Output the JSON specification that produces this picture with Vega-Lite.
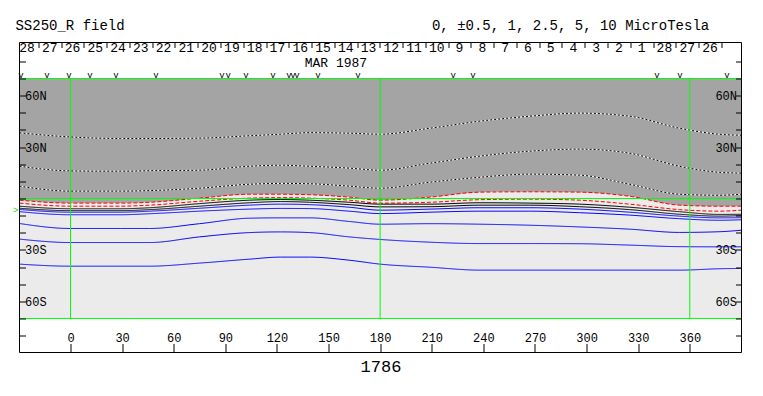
{
  "$schema": "https://vega.github.io/schema/vega-lite/v6.json",
  "width": 722,
  "height": 310,
  "autosize": {"type": "none"},
  "padding": {"left": 19.5, "top": 42.5, "right": 21.5, "bottom": 43.5},
  "background": "white",
  "config": {"view": {"stroke": null}, "font": "Liberation Mono"},
  "datasets": {
    "grid": [
      {"lon": -29.65, "N1": 38.3, "N2": 18.8, "N3": 7.2, "N0": -1.0, "R2": -2.7, "K1": -4.5, "K2": -5.7, "B1": -6.4, "B2": -7.7, "B3": -14.6, "B4": -23.7, "B5": -38.3},
      {"lon": 0, "N1": 35.9, "N2": 16.1, "N3": 4.3, "N0": -2.7, "R2": -4.5, "K1": -6.0, "K2": -7.1, "B1": -8.0, "B2": -9.5, "B3": -17.5, "B4": -25.7, "B5": -39.5},
      {"lon": 29, "N1": 35.0, "N2": 15.9, "N3": 4.3, "N0": -2.7, "R2": -4.5, "K1": -6.0, "K2": -7.1, "B1": -8.0, "B2": -9.5, "B3": -17.5, "B4": -25.7, "B5": -39.5},
      {"lon": 46, "N1": 35.0, "N2": 16.2, "N3": 4.6, "N0": -2.2, "R2": -3.9, "K1": -5.4, "K2": -6.5, "B1": -7.4, "B2": -8.9, "B3": -17.5, "B4": -25.7, "B5": -39.5},
      {"lon": 75, "N1": 35.2, "N2": 16.5, "N3": 6.0, "N0": 0.2, "R2": -1.6, "K1": -3.0, "K2": -4.5, "B1": -5.7, "B2": -7.4, "B3": -14.7, "B4": -22.4, "B5": -37.7},
      {"lon": 104, "N1": 36.6, "N2": 18.8, "N3": 8.3, "N0": 2.5, "R2": 0.2, "K1": -1.0, "K2": -2.5, "B1": -3.9, "B2": -6.2, "B3": -11.5, "B4": -19.9, "B5": -35.4},
      {"lon": 122, "N1": 37.5, "N2": 19.4, "N3": 8.8, "N0": 2.5, "R2": 0.5, "K1": -0.6, "K2": -1.8, "B1": -3.3, "B2": -5.8, "B3": -11.3, "B4": -19.5, "B5": -34.2},
      {"lon": 139, "N1": 38.4, "N2": 18.8, "N3": 8.6, "N0": 2.2, "R2": 0.2, "K1": -1.0, "K2": -2.2, "B1": -3.6, "B2": -5.9, "B3": -11.3, "B4": -19.9, "B5": -34.2},
      {"lon": 162, "N1": 38.1, "N2": 17.7, "N3": 7.2, "N0": 0.8, "R2": -1.0, "K1": -2.2, "K2": -3.6, "B1": -5.1, "B2": -7.4, "B3": -13.4, "B4": -22.4, "B5": -36.0},
      {"lon": 180, "N1": 37.5, "N2": 16.5, "N3": 6.0, "N0": -1.0, "R2": -2.7, "K1": -3.3, "K2": -4.9, "B1": -6.8, "B2": -8.8, "B3": -15.0, "B4": -23.9, "B5": -38.3},
      {"lon": 209, "N1": 41.0, "N2": 20.6, "N3": 9.5, "N0": 0.8, "R2": -2.2, "K1": -3.3, "K2": -4.8, "B1": -6.2, "B2": -8.0, "B3": -14.7, "B4": -25.5, "B5": -40.1},
      {"lon": 238, "N1": 45.1, "N2": 24.7, "N3": 12.4, "N0": 3.7, "R2": -0.7, "K1": -2.5, "K2": -3.9, "B1": -5.4, "B2": -7.4, "B3": -15.0, "B4": -26.3, "B5": -41.8},
      {"lon": 267, "N1": 48.0, "N2": 27.6, "N3": 14.2, "N0": 3.9, "R2": -0.4, "K1": -2.7, "K2": -3.9, "B1": -5.4, "B2": -7.4, "B3": -15.6, "B4": -26.3, "B5": -41.8},
      {"lon": 296, "N1": 49.8, "N2": 28.8, "N3": 13.6, "N0": 3.7, "R2": -1.0, "K1": -3.3, "K2": -4.8, "B1": -6.2, "B2": -8.3, "B3": -16.6, "B4": -26.4, "B5": -41.8},
      {"lon": 325, "N1": 48.0, "N2": 26.4, "N3": 8.3, "N0": 1.3, "R2": -3.3, "K1": -5.1, "K2": -6.5, "B1": -8.0, "B2": -9.7, "B3": -17.9, "B4": -27.2, "B5": -41.8},
      {"lon": 354, "N1": 41.0, "N2": 18.8, "N3": 2.5, "N0": -3.9, "R2": -6.5, "K1": -7.7, "K2": -9.2, "B1": -10.3, "B2": -11.8, "B3": -19.8, "B4": -28.1, "B5": -41.8},
      {"lon": 377, "N1": 37.5, "N2": 15.3, "N3": 1.9, "N0": -4.5, "R2": -7.4, "K1": -9.3, "K2": -10.3, "B1": -11.3, "B2": -12.7, "B3": -19.4, "B4": -28.2, "B5": -41.0},
      {"lon": 390.05, "N1": 36.9, "N2": 14.8, "N3": 2.5, "N0": -4.5, "R2": -6.8, "K1": -9.2, "K2": -10.0, "B1": -11.2, "B2": -12.4, "B3": -18.5, "B4": -28.2, "B5": -40.8}
    ],
    "days": [
      {"lon": -25.29, "day": "28"}, {"lon": -12.06, "day": "27"}, {"lon": 1.18, "day": "26"},
      {"lon": 14.41, "day": "25"}, {"lon": 27.64, "day": "24"}, {"lon": 40.88, "day": "23"},
      {"lon": 54.11, "day": "22"}, {"lon": 67.34, "day": "21"}, {"lon": 80.57, "day": "20"},
      {"lon": 93.81, "day": "19"}, {"lon": 107.04, "day": "18"}, {"lon": 120.27, "day": "17"},
      {"lon": 133.51, "day": "16"}, {"lon": 146.74, "day": "15"}, {"lon": 159.97, "day": "14"},
      {"lon": 173.21, "day": "13"}, {"lon": 186.44, "day": "12"}, {"lon": 199.67, "day": "11"},
      {"lon": 212.9, "day": "10"}, {"lon": 226.14, "day": "9"}, {"lon": 239.37, "day": "8"},
      {"lon": 252.6, "day": "7"}, {"lon": 265.84, "day": "6"}, {"lon": 279.07, "day": "5"},
      {"lon": 292.3, "day": "4"}, {"lon": 305.54, "day": "3"}, {"lon": 318.77, "day": "2"},
      {"lon": 332.0, "day": "1"}, {"lon": 345.23, "day": "28"}, {"lon": 358.47, "day": "27"},
      {"lon": 371.7, "day": "26"}
    ],
    "obs": [
      {"lon": -28.8}, {"lon": -13.7}, {"lon": -0.9}, {"lon": 11.3}, {"lon": 26.4}, {"lon": 49.7},
      {"lon": 88.1}, {"lon": 91.6}, {"lon": 102.0}, {"lon": 117.7}, {"lon": 127.0}, {"lon": 129.3},
      {"lon": 131.6}, {"lon": 143.8}, {"lon": 167.1}, {"lon": 222.4}, {"lon": 234.0}, {"lon": 340.9},
      {"lon": 354.3}, {"lon": 381.6}
    ],
    "meridians": [{"lon": 0}, {"lon": 180}, {"lon": 360}],
    "parallels": [{"lat": 70}, {"lat": 0}, {"lat": -70}]
  },
  "layer": [
    {
      "data": {"name": "grid"},
      "mark": {"type": "area", "color": "#ebebeb", "interpolate": "monotone"},
      "encoding": {
        "x": {"field": "lon", "type": "quantitative", "scale": {"domain": [-29.65, 390.05], "nice": false, "zero": false},
          "axis": {"orient": "bottom", "values": [0, 30, 60, 90, 120, 150, 180, 210, 240, 270, 300, 330, 360], "format": "d",
            "tickSize": -9, "tickColor": "black", "domain": false, "grid": false,
            "labelFont": "Liberation Mono", "labelFontSize": 12, "labelColor": "black", "labelPadding": -2,
            "labelBaseline": "alphabetic", "labelAlign": "center", "labelFlush": false, "labelOverlap": false,
            "title": "1786", "titleFont": "Liberation Mono", "titleFontSize": 17, "titleFontWeight": "normal",
            "titleColor": "black", "titlePadding": 5, "zindex": 1}},
        "y": {"field": "N0", "type": "quantitative", "scale": {"domain": [-89.85, 91], "nice": false, "zero": false},
          "axis": {"orient": "left", "values": [-80, -70, -60, -50, -40, -30, -20, -10, 0, 10, 20, 30, 40, 50, 60, 70, 80],
            "tickSize": -6, "tickColor": "black", "domain": false, "grid": false,
            "labelExpr": "datum.value == 60 ? '60N' : datum.value == 30 ? '30N' : datum.value == -30 ? '30S' : datum.value == -60 ? '60S' : ''",
            "labelAlign": "left", "labelBaseline": "middle", "labelPadding": 1, "labelFont": "Liberation Mono",
            "labelFontSize": 12, "labelColor": "black", "labelOverlap": false, "title": null, "zindex": 1}},
        "y2": {"datum": -70}
      }
    },
    {
      "data": {"name": "grid"},
      "mark": {"type": "area", "color": "#a4a4a4", "interpolate": "monotone"},
      "encoding": {
        "x": {"field": "lon", "type": "quantitative", "scale": {"domain": [-29.65, 390.05], "nice": false, "zero": false}, "axis": null},
        "y": {"field": "N0", "type": "quantitative", "scale": {"domain": [-89.85, 91], "nice": false, "zero": false},
          "axis": {"orient": "right", "values": [-80, -70, -60, -50, -40, -30, -20, -10, 0, 10, 20, 30, 40, 50, 60, 70, 80],
            "tickSize": -6, "tickColor": "black", "domain": false, "grid": false,
            "labelExpr": "datum.value == 60 ? '60N' : datum.value == 30 ? '30N' : datum.value == -30 ? '30S' : datum.value == -60 ? '60S' : ''",
            "labelAlign": "right", "labelBaseline": "middle", "labelPadding": 1, "labelFont": "Liberation Mono",
            "labelFontSize": 12, "labelColor": "black", "labelOverlap": false, "title": null, "zindex": 1}},
        "y2": {"datum": 70}
      }
    },
    {
      "data": {"name": "grid"},
      "transform": [{"fold": ["N1", "N2", "N3"], "as": ["line", "lat"]}],
      "mark": {"type": "line", "color": "white", "strokeWidth": 1, "interpolate": "monotone"},
      "encoding": {
        "x": {"field": "lon", "type": "quantitative", "scale": {"domain": [-29.65, 390.05], "nice": false, "zero": false}, "axis": null},
        "y": {"field": "lat", "type": "quantitative", "scale": {"domain": [-89.85, 91], "nice": false, "zero": false}, "axis": null},
        "detail": {"field": "line"}
      }
    },
    {
      "data": {"name": "grid"},
      "transform": [{"fold": ["N1", "N2", "N3", "N0", "R2", "K1", "K2", "B1", "B2", "B3", "B4", "B5"], "as": ["line", "lat"]}],
      "mark": {"type": "line", "strokeWidth": 1, "interpolate": "monotone"},
      "encoding": {
        "x": {"field": "lon", "type": "quantitative", "scale": {"domain": [-29.65, 390.05], "nice": false, "zero": false}, "axis": null},
        "y": {"field": "lat", "type": "quantitative", "scale": {"domain": [-89.85, 91], "nice": false, "zero": false}, "axis": null},
        "color": {"field": "line", "type": "nominal", "legend": null,
          "scale": {"domain": ["N1", "N2", "N3", "N0", "R2", "K1", "K2", "B1", "B2", "B3", "B4", "B5"],
            "range": ["black", "black", "black", "#ff0000", "#ff0000", "black", "black", "#0000ff", "#0000ff", "#0000ff", "#0000ff", "#0000ff"]}},
        "strokeDash": {"field": "line", "type": "nominal", "legend": null,
          "scale": {"domain": ["N1", "N2", "N3", "N0", "R2", "K1", "K2", "B1", "B2", "B3", "B4", "B5"],
            "range": [[2, 2], [2, 2], [2, 2], [4, 2], [4, 2], [1, 0], [1, 0], [1, 0], [1, 0], [1, 0], [1, 0], [1, 0]]}}
      }
    },
    {
      "data": {"name": "meridians"},
      "mark": {"type": "rule", "color": "#00ff00", "strokeWidth": 1},
      "encoding": {
        "x": {"field": "lon", "type": "quantitative", "scale": {"domain": [-29.65, 390.05], "nice": false, "zero": false}, "axis": null},
        "y": {"datum": -70, "type": "quantitative", "scale": {"domain": [-89.85, 91], "nice": false, "zero": false}, "axis": null},
        "y2": {"datum": 70}
      }
    },
    {
      "data": {"name": "parallels"},
      "mark": {"type": "rule", "color": "#00ff00", "strokeWidth": 1},
      "encoding": {
        "y": {"field": "lat", "type": "quantitative", "scale": {"domain": [-89.85, 91], "nice": false, "zero": false}, "axis": null},
        "x": {"datum": -29.65, "type": "quantitative", "scale": {"domain": [-29.65, 390.05], "nice": false, "zero": false}, "axis": null},
        "x2": {"datum": 390.05}
      }
    },
    {
      "data": {"name": "days"},
      "mark": {"type": "text", "font": "Liberation Mono", "fontSize": 13, "color": "black", "align": "center", "baseline": "middle"},
      "encoding": {
        "x": {"field": "lon", "type": "quantitative", "scale": {"domain": [-29.65, 390.05], "nice": false, "zero": false},
          "axis": {"orient": "top", "values": [-18.67, -5.44, 7.8, 21.03, 34.26, 47.5, 60.73, 73.96, 87.19, 100.43, 113.66, 126.89, 140.13, 153.36, 166.59, 179.83, 193.06, 206.29, 219.52, 232.76, 245.99, 259.22, 272.46, 285.69, 298.92, 312.16, 325.39, 338.62, 351.85, 365.09, 378.32],
            "tickSize": -5, "tickColor": "black", "labels": false, "domain": false, "grid": false, "title": null, "zindex": 1}},
        "y": {"datum": 87.8, "type": "quantitative", "scale": {"domain": [-89.85, 91], "nice": false, "zero": false}, "axis": null},
        "text": {"field": "day", "type": "nominal"}
      }
    },
    {
      "data": {"name": "obs"},
      "mark": {"type": "text", "font": "Liberation Mono", "fontSize": 9, "color": "black", "align": "center", "baseline": "alphabetic", "text": "v"},
      "encoding": {
        "x": {"field": "lon", "type": "quantitative", "scale": {"domain": [-29.65, 390.05], "nice": false, "zero": false}, "axis": null},
        "y": {"datum": 70.4, "type": "quantitative", "scale": {"domain": [-89.85, 91], "nice": false, "zero": false}, "axis": null}
      }
    },
    {
      "data": {"values": [{"label": "MAR 1987"}]},
      "mark": {"type": "text", "font": "Liberation Mono", "fontSize": 13, "color": "black", "align": "center", "baseline": "middle"},
      "encoding": {
        "x": {"datum": 154.3, "type": "quantitative", "scale": {"domain": [-29.65, 390.05], "nice": false, "zero": false}, "axis": null},
        "y": {"datum": 79.3, "type": "quantitative", "scale": {"domain": [-89.85, 91], "nice": false, "zero": false}, "axis": null},
        "text": {"field": "label", "type": "nominal"}
      }
    },
    {
      "data": {"values": [{"label": "SS250_R field"}]},
      "mark": {"type": "text", "font": "Liberation Mono", "fontSize": 14, "color": "black", "align": "left", "baseline": "middle"},
      "encoding": {
        "x": {"datum": -32.0, "type": "quantitative", "scale": {"domain": [-29.65, 390.05], "nice": false, "zero": false}, "axis": null},
        "y": {"datum": 100.6, "type": "quantitative", "scale": {"domain": [-89.85, 91], "nice": false, "zero": false}, "axis": null},
        "text": {"field": "label", "type": "nominal"}
      }
    },
    {
      "data": {"values": [{"label": "0, ±0.5, 1, 2.5, 5, 10 MicroTesla"}]},
      "mark": {"type": "text", "font": "Liberation Mono", "fontSize": 14, "color": "black", "align": "left", "baseline": "middle"},
      "encoding": {
        "x": {"datum": 210.1, "type": "quantitative", "scale": {"domain": [-29.65, 390.05], "nice": false, "zero": false}, "axis": null},
        "y": {"datum": 100.6, "type": "quantitative", "scale": {"domain": [-89.85, 91], "nice": false, "zero": false}, "axis": null},
        "text": {"field": "label", "type": "nominal"}
      }
    },
    {
      "data": {"values": [{"label": ">"}]},
      "mark": {"type": "text", "font": "Liberation Mono", "fontSize": 9, "color": "#00dd00", "align": "right", "baseline": "middle", "dx": -1},
      "encoding": {
        "x": {"datum": -29.65, "type": "quantitative", "scale": {"domain": [-29.65, 390.05], "nice": false, "zero": false}, "axis": null},
        "y": {"datum": -7.0, "type": "quantitative", "scale": {"domain": [-89.85, 91], "nice": false, "zero": false}, "axis": null},
        "text": {"field": "label", "type": "nominal"}
      }
    },
    {
      "data": {"values": [{}]},
      "mark": {"type": "rect", "fill": null, "fillOpacity": 0, "stroke": "black", "strokeWidth": 1},
      "encoding": {
        "x": {"datum": -29.65, "type": "quantitative", "scale": {"domain": [-29.65, 390.05], "nice": false, "zero": false}, "axis": null},
        "x2": {"datum": 390.05},
        "y": {"datum": -89.85, "type": "quantitative", "scale": {"domain": [-89.85, 91], "nice": false, "zero": false}, "axis": null},
        "y2": {"datum": 91}
      }
    }
  ],
  "resolve": {"axis": {"x": "independent", "y": "independent"}}
}
